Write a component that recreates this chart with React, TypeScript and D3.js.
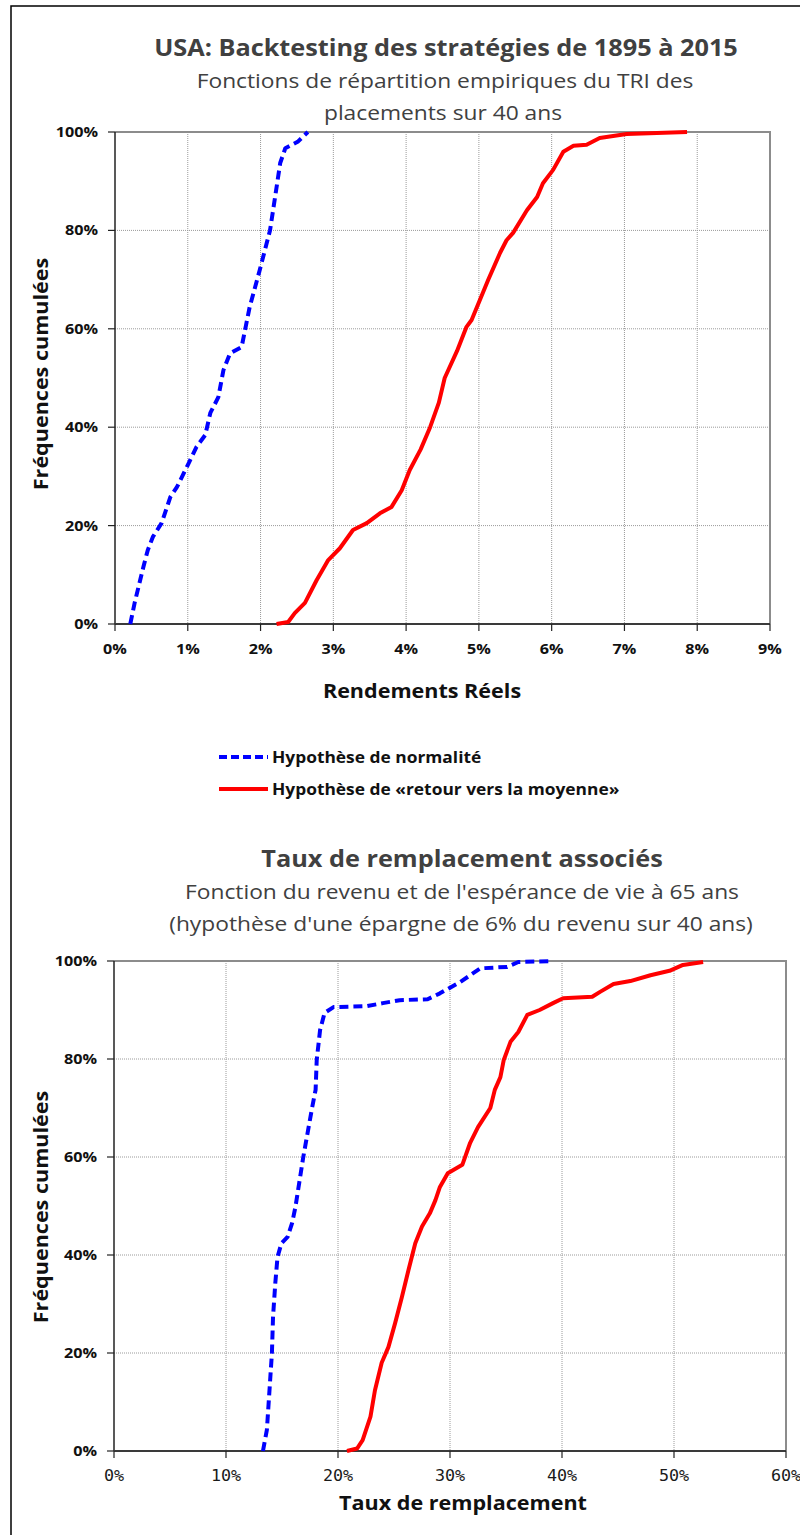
import React, { useRef, useEffect } from "react";
import * as d3 from "d3";

// Top chart: empirical CDF of real returns (x in %, y in %)
const retNormX = [0.21, 0.27, 0.39, 0.45, 0.52, 0.64, 0.76, 0.85, 1.0, 1.12, 1.24, 1.31, 1.42, 1.49, 1.58, 1.74, 1.85, 1.99, 2.13, 2.2, 2.27, 2.34, 2.51, 2.65];
const retNormY = [0, 4.3, 11.6, 15, 17.7, 20.5, 25.8, 27.8, 32.3, 36, 38.4, 42.9, 46.1, 51.6, 55, 56.3, 64.4, 72, 80, 86.8, 93.7, 96.7, 98, 100];
const retMeanX = [2.22, 2.38, 2.47, 2.61, 2.77, 2.93, 3.09, 3.27, 3.46, 3.64, 3.8, 3.94, 4.05, 4.2, 4.33, 4.45, 4.53, 4.7, 4.83, 4.9, 5.13, 5.29, 5.38, 5.47, 5.66, 5.8, 5.88, 6.02, 6.16, 6.3, 6.48, 6.66, 7.03, 7.86];
const retMeanY = [0, 0.4, 2.2, 4.3, 8.9, 13, 15.4, 19.1, 20.5, 22.5, 23.8, 27.2, 31.3, 35.5, 40, 45, 50, 55.5, 60.4, 61.8, 70, 75.4, 78, 79.5, 84.1, 86.8, 89.6, 92.3, 96, 97.2, 97.4, 98.8, 99.6, 100];

// Bottom chart: replacement rates (x in %, y in %)
const rateNormX = [13.3, 13.65, 13.9, 14.1, 14.2, 14.4, 14.6, 14.95, 15.5, 15.9, 16.2, 16.9, 17.7, 18.0, 18.1, 18.4, 18.8, 19.6, 22.6, 24.0, 25.5, 28.0, 29.1, 30.9, 32.7, 35.1, 36.1, 39.2];
const rateNormY = [0, 4.3, 13, 20, 27.4, 34.2, 39.6, 42.4, 43.7, 46.5, 49.8, 60, 70.2, 73.7, 79.8, 85.9, 89.4, 90.6, 90.8, 91.4, 92, 92.2, 93.4, 95.7, 98.5, 98.8, 99.8, 100];
const rateMeanX = [20.8, 21.7, 22.2, 22.9, 23.3, 23.9, 24.5, 25.1, 25.7, 26.3, 26.9, 27.5, 28.2, 28.7, 29.1, 29.8, 31.1, 31.8, 32.5, 33.6, 34.0, 34.5, 34.8, 35.4, 36.1, 36.9, 38.0, 39.2, 40.1, 42.7, 43.4, 44.6, 46.1, 47.9, 49.6, 50.8, 52.6];
const rateMeanY = [0, 0.5, 2.2, 7, 12.4, 18, 21.2, 26.1, 31.4, 37, 42.4, 45.8, 48.5, 51.2, 53.9, 56.7, 58.4, 62.9, 66.1, 70, 73.7, 76.3, 79.8, 83.5, 85.5, 89, 90, 91.4, 92.4, 92.7, 93.7, 95.3, 95.9, 97.1, 98, 99.2, 99.8];

const yTicks = [0, 20, 40, 60, 80, 100];
const retTicks = [0, 1, 2, 3, 4, 5, 6, 7, 8, 9];
const rateTicks = [0, 10, 20, 30, 40, 50, 60];

const legendLabels = ["Hypothèse de normalité", "Hypothèse de «retour vers la moyenne»"];

const SANS = "'Open Sans', 'Noto Sans', sans-serif";
const MONO = "'DejaVu Sans Mono', monospace";
const TXT = "#404040";
const SX = 1.1; // the original text is a bit wider than Open Sans

// places a horizontally stretched text
function label(parent, t, x, y, opts = {}) {
  const { size = 14, bold = false, anchor = "middle", fill = "#111", family = SANS, rotate = false } = opts;
  return parent
    .append("text")
    .attr("transform", `translate(${x},${y})${rotate ? " rotate(-90)" : ""} scale(${SX},1)`)
    .attr("text-anchor", anchor)
    .style("font-family", family)
    .style("font-size", `${size}px`)
    .style("font-weight", bold ? "bold" : "normal")
    .attr("fill", fill)
    .text(t);
}

function drawPanel(svg, cfg) {
  const { x0, x1, y0, y1, xMax, xTicks, series, mono, tickY, xTitle, xTitleX, xTitleY, yTitleY } = cfg;
  const x = d3.scaleLinear().domain([0, xMax]).range([x0, x1]);
  const y = d3.scaleLinear().domain([0, 100]).range([y1, y0]);
  const g = svg.append("g");

  // grid
  g.selectAll(".vg")
    .data(xTicks.slice(1, -1))
    .enter()
    .append("line")
    .attr("x1", (d) => x(d))
    .attr("x2", (d) => x(d))
    .attr("y1", y0)
    .attr("y2", y1)
    .attr("stroke", "#9a9a9a")
    .attr("stroke-width", 1)
    .attr("stroke-dasharray", "1,1");
  g.selectAll(".hg")
    .data(yTicks.slice(1, -1))
    .enter()
    .append("line")
    .attr("x1", x0)
    .attr("x2", x1)
    .attr("y1", (d) => y(d))
    .attr("y2", (d) => y(d))
    .attr("stroke", "#9a9a9a")
    .attr("stroke-width", 1)
    .attr("stroke-dasharray", "1,1");

  // frame (top + right gray)
  g.append("path")
    .attr("d", `M${x0},${y0}H${x1}V${y1}`)
    .attr("fill", "none")
    .attr("stroke", "#8c8c8c")
    .attr("stroke-width", 2);

  // y axis
  g.append("line")
    .attr("x1", x0).attr("x2", x0).attr("y1", y0).attr("y2", y1)
    .attr("stroke", "#222").attr("stroke-width", 1.5);
  g.selectAll(".yt")
    .data(yTicks)
    .enter()
    .append("line")
    .attr("x1", x0 - 7).attr("x2", x0)
    .attr("y1", (d) => y(d)).attr("y2", (d) => y(d))
    .attr("stroke", "#222").attr("stroke-width", 1.2);
  yTicks.forEach((d) => label(g, `${d}%`, x0 - 17, y(d) + 5, { size: 14.7, bold: true, anchor: "end" }));

  // x axis
  g.append("line")
    .attr("x1", x0).attr("x2", x1).attr("y1", y1).attr("y2", y1)
    .attr("stroke", "#3a3a3a").attr("stroke-width", 2);
  g.selectAll(".xt")
    .data(xTicks)
    .enter()
    .append("line")
    .attr("x1", (d) => x(d)).attr("x2", (d) => x(d))
    .attr("y1", y1).attr("y2", y1 + 7)
    .attr("stroke", "#222").attr("stroke-width", 1.2);
  xTicks.forEach((d) =>
    label(g, `${d}%`, x(d), tickY, mono ? { size: 15.2, family: MONO, fill: "#1a1a1a" } : { size: 14.7, bold: true })
  );

  // axis titles
  label(g, xTitle, xTitleX, xTitleY, { size: 19.6, bold: true });
  label(g, "Fréquences cumulées", 48, yTitleY, { size: 19.6, bold: true, rotate: true });

  // curves
  const line = d3
    .line()
    .x((d) => x(d[0]))
    .y((d) => y(d[1]))
    .curve(d3.curveLinear);
  series.forEach((s) => {
    g.append("path")
      .datum(s.xs.map((v, i) => [v, s.ys[i]]))
      .attr("d", line)
      .attr("fill", "none")
      .attr("stroke", s.color)
      .attr("stroke-width", 4)
      .attr("stroke-linejoin", "round")
      .attr("stroke-dasharray", s.dashed ? "9,5" : null);
  });
}

function App() {
  const svgRef = useRef(null);

  useEffect(() => {
    const svg = d3.select(svgRef.current);
    svg.selectAll("*").remove();

    svg.append("rect").attr("width", 800).attr("height", 1535).attr("fill", "white");
    // outer frame (left + top)
    svg.append("path")
      .attr("d", "M11,1535V6H800")
      .attr("fill", "none")
      .attr("stroke", "#000")
      .attr("stroke-width", 1.5);

    label(svg, "USA: Backtesting des stratégies de 1895 à 2015", 446, 56, { size: 23, bold: true, fill: TXT });
    label(svg, "Fonctions de répartition empiriques du TRI des", 445, 88, { size: 20.7, fill: TXT });
    label(svg, "placements sur 40 ans", 443, 120, { size: 20.7, fill: TXT });

    drawPanel(svg, {
      x0: 115, x1: 770, y0: 132, y1: 624,
      xMax: 9, xTicks: retTicks,
      series: [
        { xs: retNormX, ys: retNormY, color: "#0000ff", dashed: true },
        { xs: retMeanX, ys: retMeanY, color: "#ff0000", dashed: false },
      ],
      mono: false, tickY: 654,
      xTitle: "Rendements Réels", xTitleX: 422, xTitleY: 698, yTitleY: 374,
    });

    // legend
    const legend = svg.append("g");
    [
      { color: "#0000ff", dashed: true, y: 757 },
      { color: "#ff0000", dashed: false, y: 789 },
    ].forEach((l, i) => {
      legend.append("line")
        .attr("x1", 219).attr("x2", 268).attr("y1", l.y).attr("y2", l.y)
        .attr("stroke", l.color).attr("stroke-width", 4)
        .attr("stroke-dasharray", l.dashed ? "8,4" : null);
      label(legend, legendLabels[i], 272, l.y + 6, { size: 15.8, bold: true, anchor: "start" });
    });

    label(svg, "Taux de remplacement associés", 462, 867, { size: 23, bold: true, fill: TXT });
    label(svg, "Fonction du revenu et de l'espérance de vie à 65 ans", 462, 899, { size: 20.7, fill: TXT });
    label(svg, "(hypothèse d'une épargne de 6% du revenu sur 40 ans)", 461, 931, { size: 20.7, fill: TXT });

    drawPanel(svg, {
      x0: 114, x1: 786, y0: 961, y1: 1451,
      xMax: 60, xTicks: rateTicks,
      series: [
        { xs: rateNormX, ys: rateNormY, color: "#0000ff", dashed: true },
        { xs: rateMeanX, ys: rateMeanY, color: "#ff0000", dashed: false },
      ],
      mono: true, tickY: 1481,
      xTitle: "Taux de remplacement", xTitleX: 463, xTitleY: 1510, yTitleY: 1207,
    });
  }, []);

  return (
    <svg
      ref={svgRef}
      width={800}
      height={1535}
      style={{ position: "absolute", left: 0, top: 0, display: "block" }}
    ></svg>
  );
}

export default App;
